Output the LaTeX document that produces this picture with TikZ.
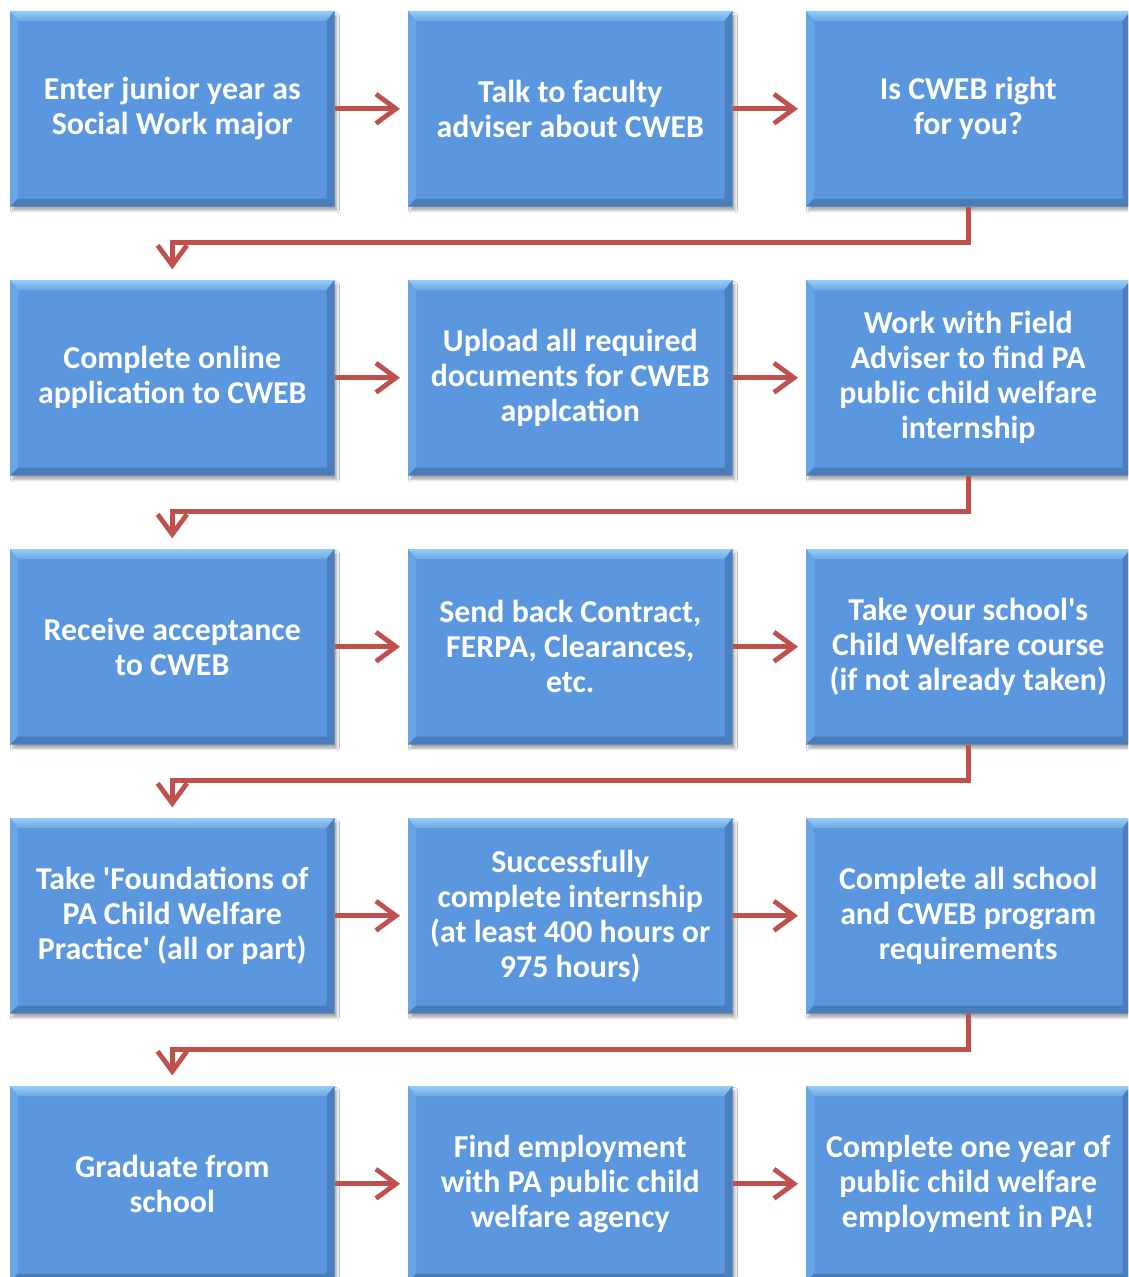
\documentclass[tikz,border=0pt]{standalone}
\usepackage{fontspec}
\setmainfont{Carlito}
\usetikzlibrary{calc,arrows.meta,shadows.blur}
\definecolor{boxmain}{RGB}{91,151,222}
\definecolor{boxtop}{RGB}{150,204,248}
\definecolor{boxleft}{RGB}{104,164,230}
\definecolor{boxright}{RGB}{74,128,194}
\definecolor{boxbot}{RGB}{74,124,186}
\definecolor{connred}{RGB}{192,80,77}
\tikzset{
  x=0.75pt, y=-0.75pt,
  box/.style={anchor=north west, fill=boxmain, minimum width=243pt, minimum height=146.25pt,
    inner sep=0pt, text=white, align=center,
    font=\fontsize{23.9pt}{26.25pt}\selectfont\bfseries,
    blur shadow={shadow xshift=2pt, shadow yshift=-3pt, shadow blur steps=6, shadow opacity=35}},
  conn/.style={draw=connred, line width=3.6pt,
    -{Straight Barb[length=15pt,width=22pt,line width=3.6pt]}, shorten >=6pt},
}
\newcommand\bevel[1]{%
  \shade[top color=boxtop, bottom color=boxmain!70!boxtop]
    (#1.north west) -- (#1.north east) -- ($(#1.north east)+(-8,10)$) -- ($(#1.north west)+(8,10)$) -- cycle;
  \fill[boxleft] (#1.north west) -- ($(#1.north west)+(8,10)$) -- ($(#1.south west)+(8,-8)$) -- (#1.south west) -- cycle;
  \fill[boxright] (#1.north east) -- ($(#1.north east)+(-8,10)$) -- ($(#1.south east)+(-8,-8)$) -- (#1.south east) -- cycle;
  \fill[boxbot] (#1.south west) -- ($(#1.south west)+(8,-8)$) -- ($(#1.south east)+(-8,-8)$) -- (#1.south east) -- cycle;
}
\newcommand\bbox[4]{\node[box] (#1) at (#2,#3) {#4}; \bevel{#1}}
\begin{document}
\begin{tikzpicture}
\useasboundingbox (0,0) rectangle (1128,1277);
\fill[white] (0,0) rectangle (1128,1277);
\clip (0,0) rectangle (1128,1277);
\bbox{b1}{10}{11}{Enter junior year as\\Social Work major}
\bbox{b2}{408}{11}{Talk to faculty\\adviser about CWEB}
\bbox{b3}{806}{11}{Is CWEB right\\for you?}
\bbox{b4}{10}{280}{Complete online\\application to CWEB}
\bbox{b5}{408}{280}{Upload all required\\documents for CWEB\\applcation}
\bbox{b6}{806}{280}{Work with Field\\Adviser to find PA\\public child welfare\\internship}
\bbox{b7}{10}{549}{Receive acceptance\\to CWEB}
\bbox{b8}{408}{549}{Send back Contract,\\FERPA, Clearances,\\etc.}
\bbox{b9}{806}{549}{Take your school\textquotesingle s\\Child Welfare course\\(if not already taken)}
\bbox{b10}{10}{818}{Take \textquotesingle Foundations of\\PA Child Welfare\\Practice\textquotesingle{} (all or part)}
\bbox{b11}{408}{818}{Successfully\\complete internship\\(at least 400 hours or\\975 hours)}
\bbox{b12}{806}{818}{Complete all school\\and CWEB program\\requirements}
\bbox{b13}{10}{1086}{Graduate from\\school}
\bbox{b14}{408}{1086}{Find employment\\with PA public child\\welfare agency}
\bbox{b15}{806}{1086}{Complete one year of\\public child welfare\\employment in PA!}
\foreach \a/\b in {b1/b2,b2/b3,b4/b5,b5/b6,b7/b8,b8/b9,b10/b11,b11/b12,b13/b14,b14/b15}
  \draw[conn] (\a.east) -- (\b.west);
\foreach \a/\b in {b3/b4,b6/b7,b9/b10,b12/b13}
  \draw[conn, shorten >=8pt] (\a.south) -- ++(0,36) -| (\b.north);
\end{tikzpicture}
\end{document}
